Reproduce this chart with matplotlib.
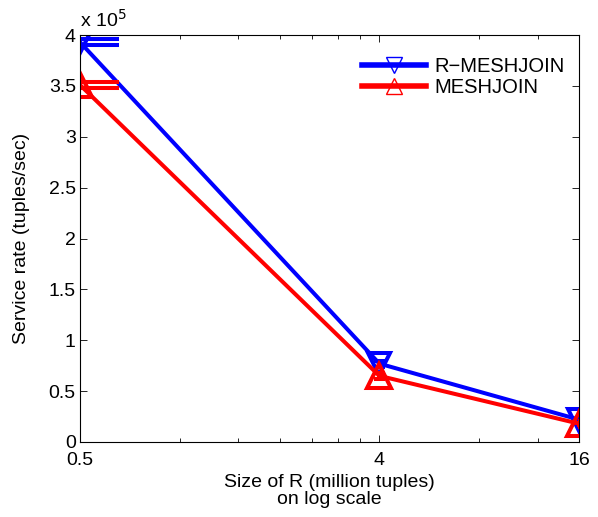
import numpy as np
import matplotlib.pyplot as plt
from matplotlib.ticker import FixedLocator, NullFormatter
from matplotlib.lines import Line2D

plt.rcParams['font.family'] = ['Liberation Sans', 'DejaVu Sans']

# data (service rate in units of 1e5 tuples/sec)
size_r = [0.5, 4, 16]
r_meshjoin = [3.93, 0.77, 0.22]
meshjoin = [3.51, 0.65, 0.18]
err = 0.03
x_ticks = [0.5, 4, 16]
x_minor = [1, 1.5, 2, 2.5, 3, 3.5, 8, 12]
y_ticks = [0, 0.5, 1, 1.5, 2, 2.5, 3, 3.5, 4]

fig = plt.figure(figsize=(5.98, 5.17), dpi=100)
ax = fig.add_axes([0.1338, 0.1451, 0.8344, 0.787])

# MATLAB-style errorbar tees: width is 1/100 of x range in data units
tee = (max(size_r) - min(size_r)) / 100

for vals, col, mk, ms in [(r_meshjoin, 'blue', 'v', 16), (meshjoin, 'red', '^', 17)]:
    ax.plot(size_r, vals, color=col, lw=2.9, marker=mk, ms=ms,
            mfc='none', mec=col, mew=2.9)
    for xv, yv in zip(size_r, vals):
        ax.vlines(xv, yv - err, yv + err, color=col, lw=2.9)
        ax.hlines([yv - err, yv + err], xv - tee, xv + tee, color=col, lw=2.9)

ax.set_xscale('log')
ax.set_xlim(0.5, 16)
ax.set_ylim(0, 4)
ax.xaxis.set_major_locator(FixedLocator(x_ticks))
ax.xaxis.set_minor_locator(FixedLocator(x_minor))
ax.xaxis.set_minor_formatter(NullFormatter())
ax.set_xticklabels(['0.5', '4', '16'])
ax.set_yticks(y_ticks)
ax.set_yticklabels(['0', '0.5', '1', '1.5', '2', '2.5', '3', '3.5', '4'])
ax.tick_params(which='both', direction='in', top=True, right=True,
               labelsize=14, width=0.6)
ax.tick_params(which='major', length=5, pad=3)
ax.tick_params(axis='x', which='major', pad=7)
ax.tick_params(which='minor', length=3)
for s in ax.spines.values():
    s.set_linewidth(0.8)

ax.set_xlabel('Size of R (million tuples)\non log scale', fontsize=14,
              linespacing=1.05)
ax.xaxis.set_label_coords(0.5, -0.078)
ax.set_ylabel('Service rate (tuples/sec)', fontsize=14)
ax.yaxis.set_label_coords(-0.1, 0.5)
ax.text(0.0, 1.01, r'x 10$^{5}$', transform=ax.transAxes, fontsize=14,
        ha='left', va='bottom')

handles = [
    Line2D([], [], color='blue', lw=4, marker='v', ms=11, mfc='none',
           mec='blue', mew=1),
    Line2D([], [], color='red', lw=4, marker='^', ms=11, mfc='none',
           mec='red', mew=1),
]
ax.legend(handles, ['R\u2212MESHJOIN', 'MESHJOIN'], loc='upper right',
          bbox_to_anchor=(0.995, 0.975), frameon=False, fontsize=14.5,
          handlelength=3.2, handletextpad=0.4, labelspacing=0.1,
          borderaxespad=0.2)

plt.savefig('out.png', dpi=100)
